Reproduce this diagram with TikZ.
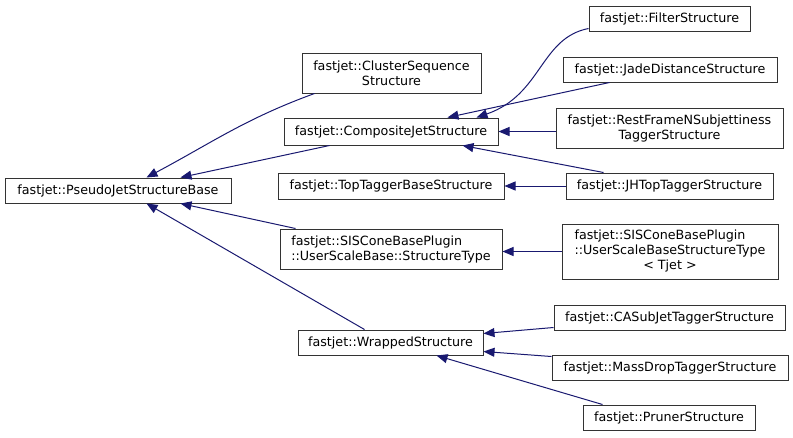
\documentclass[tikz,border=0pt]{standalone}
\usepackage{fontspec}
\setmainfont{DejaVu Sans}
\usetikzlibrary{arrows.meta}
\definecolor{edgeblue}{RGB}{25,25,112}
\tikzset{classbox/.style={draw=black!80, fill=white, line width=1pt, inner sep=0pt, align=center, font=\fontsize{12.7}{15}\selectfont}}
\tikzset{inherit/.style={draw=edgeblue, line width=1pt, -{Triangle[length=11pt,width=9pt]}}}

\begin{document}
\begin{tikzpicture}[x=1pt,y=-1pt]
\useasboundingbox (0,0) rectangle (793,437);

\node[classbox, minimum width=226, minimum height=25] (0) at (118,190.5) {fastjet::PseudoJetStructureBase};

\node[classbox, minimum width=179, minimum height=40] (1) at (391.5,73) {fastjet::ClusterSequence\\Structure};
\node[classbox, minimum width=214, minimum height=27] (2) at (391,131.5) {fastjet::CompositeJetStructure};
\node[classbox, minimum width=226, minimum height=26] (3) at (391,186) {fastjet::TopTaggerBaseStructure};
\node[classbox, minimum width=222, minimum height=40, align=left] (4) at (391,249) {fastjet::SISConeBasePlugin\\::UserScaleBase::StructureType};
\node[classbox, minimum width=185, minimum height=25] (5) at (390.5,342.5) {fastjet::WrappedStructure};

\node[classbox, minimum width=161, minimum height=25] (6) at (669.5,18.5) {fastjet::FilterStructure};
\node[classbox, minimum width=214, minimum height=25] (7) at (670,69.5) {fastjet::JadeDistanceStructure};
\node[classbox, minimum width=227, minimum height=40] (8) at (669.5,128) {fastjet::RestFrameNSubjettiness\\TaggerStructure};
\node[classbox, minimum width=207, minimum height=26] (9) at (669.5,186) {fastjet::JHTopTaggerStructure};
\node[classbox, minimum width=216, minimum height=55] (10) at (670,251.5) {\begin{tabular}{@{}l@{}}fastjet::SISConeBasePlugin\\::UserScaleBaseStructureType\\\multicolumn{1}{@{}c@{}}{< Tjet >}\end{tabular}};
\node[classbox, minimum width=231, minimum height=25] (11) at (669.5,317.5) {fastjet::CASubJetTaggerStructure};
\node[classbox, minimum width=236, minimum height=25] (12) at (670,367.5) {fastjet::MassDropTaggerStructure};
\node[classbox, minimum width=172, minimum height=25] (13) at (669,417.5) {fastjet::PrunerStructure};

% edges to the base class
\draw[inherit] ([xshift=13]1.south west) to[out=200,in=28] ([xshift=142]0.north west);
\draw[inherit] ([xshift=46]2.south west) -- ([xshift=176]0.north west);
\draw[inherit] ([xshift=16]4.north west) -- ([xshift=176]0.south west);
\draw[inherit] ([xshift=67]5.north west) -- ([xshift=142]0.south west);

% edges to the middle column
\draw[inherit] ([yshift=3]6.south west) .. controls (540,38) and (542,95) .. ([xshift=193]2.north west);
\draw[inherit] ([xshift=47]7.south west) -- ([xshift=164]2.north west);
\draw[inherit] (8.west |- 2.east) -- (2.east);
\draw[inherit] ([xshift=38]9.north west) -- ([xshift=179]2.south west);
\draw[inherit] (9.west) -- (3.east);
\draw[inherit] (10.west) -- (10.west -| 4.east);
\draw[inherit] ([yshift=3]11.south west) -- ([yshift=9]5.east);
\draw[inherit] ([yshift=-2]12.north west) -- ([yshift=-9]5.east);
\draw[inherit] ([xshift=20]13.north west) -- ([xshift=139]5.south west);

\end{tikzpicture}
\end{document}
